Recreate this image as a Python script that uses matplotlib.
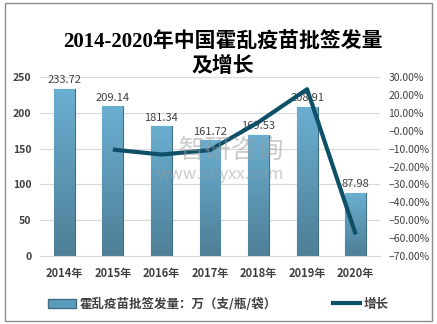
import numpy as np
import matplotlib
matplotlib.use("Agg")
import matplotlib.pyplot as plt
from matplotlib.patches import Rectangle, Patch
from matplotlib.lines import Line2D
from matplotlib.colors import LinearSegmentedColormap
from matplotlib.ticker import PercentFormatter

plt.rcParams['font.family'] = ['Noto Sans CJK SC', 'DejaVu Sans']

years = ["2014年", "2015年", "2016年", "2017年", "2018年", "2019年", "2020年"]
volume = [233.72, 209.14, 181.34, 161.72, 169.53, 208.91, 87.98]
growth = [np.nan, -0.1052, -0.1329, -0.1082, 0.0483, 0.2323, -0.5789]

txt = "#404040"
fig = plt.figure(figsize=(4.37, 3.24), dpi=100)
ax = fig.add_axes([0.0915, 0.21, 0.778, 0.552])
ax2 = ax.twinx()

x = np.arange(len(years))
bars = ax.bar(x, volume, width=0.43, color="#5b9bbb", edgecolor="#3e6f87", linewidth=0.8, zorder=2)

# 柱子渐变
cmap = LinearSegmentedColormap.from_list("g", ["#4e7f97", "#6aaed0"])
grad = np.linspace(0, 1, 100).reshape(-1, 1)
for b in bars:
    bx, by = b.get_x(), b.get_y()
    im = ax.imshow(grad, cmap=cmap, aspect="auto", origin="lower",
                   extent=[bx, bx + b.get_width(), by, by + b.get_height()], zorder=2)
    im.set_clip_path(b)
ax.set_xlim(-0.5, len(years) - 0.5)
ax.set_ylim(0, 250)
ax.set_yticks(np.arange(0, 251, 50))
ax.grid(axis="y", color="#d9d9d9", linewidth=0.8, zorder=0)
ax.set_axisbelow(True)
for v, xi in zip(volume, x):
    ax.text(xi, v + 5, f"{v:.2f}", ha="center", va="bottom", fontsize=8, color=txt, zorder=3)

ax.set_xticks(x)
ax.set_xticklabels(years, fontsize=8, fontweight="bold", color=txt)
for lab in ax.get_yticklabels():
    lab.set_fontsize(7.5)
    lab.set_fontweight("bold")
    lab.set_color(txt)
ax.tick_params(axis="both", length=0, pad=6)
ax.tick_params(axis="x", pad=8)

ax2.plot(x, growth, color="#0e5068", linewidth=3, solid_capstyle="butt")
ax2.set_ylim(-0.7, 0.3)
ax2.set_yticks(np.arange(-0.7, 0.31, 0.1))
ax2.yaxis.set_major_formatter(PercentFormatter(1.0, decimals=2))
ax2.tick_params(axis="y", length=0, labelsize=7.5, labelcolor=txt, pad=6)

for a in (ax, ax2):
    for s in a.spines.values():
        s.set_visible(False)
ax.spines["bottom"].set_visible(True)
ax.spines["bottom"].set_color("#d9d9d9")

title_font = ["Liberation Serif", "Noto Sans CJK SC"]
fig.text(0.51, 1 - 43 / 324, "2014-2020年中国霍乱疫苗批签发量", ha="center", va="center",
         fontsize=15, fontweight="bold", family=title_font)
fig.text(0.51, 1 - 67 / 324, "及增长", ha="center", va="center",
         fontsize=15, fontweight="bold", family=title_font)

# 水印
fig.text(0.53, 0.535, "智研咨询", ha="center", va="center", fontsize=19, color="#9a9a9a", alpha=0.5)
fig.text(0.505, 0.462, "www.chyxx.com", ha="center", va="center", fontsize=12, color="#9a9a9a", alpha=0.5)

handles = [Patch(facecolor="#5b9bbb", edgecolor="#3e6f87"),
           Line2D([0], [0], color="#0e5068", linewidth=3)]
fig.legend(handles, ["霍乱疫苗批签发量：万（支/瓶/袋）", "增长"], loc="center",
           bbox_to_anchor=(0.5, 0.062), ncol=2, frameon=False, columnspacing=4.5,
           handlelength=2.2, handletextpad=0.3, prop={"size": 9, "weight": "bold"},
           labelcolor=txt)

fig.patches.append(Rectangle((5 / 437, 3 / 324), 427 / 437, 318 / 324, transform=fig.transFigure,
                             fill=False, edgecolor="#8c8c8c", linewidth=1))

fig.savefig("out.png", dpi=100)
